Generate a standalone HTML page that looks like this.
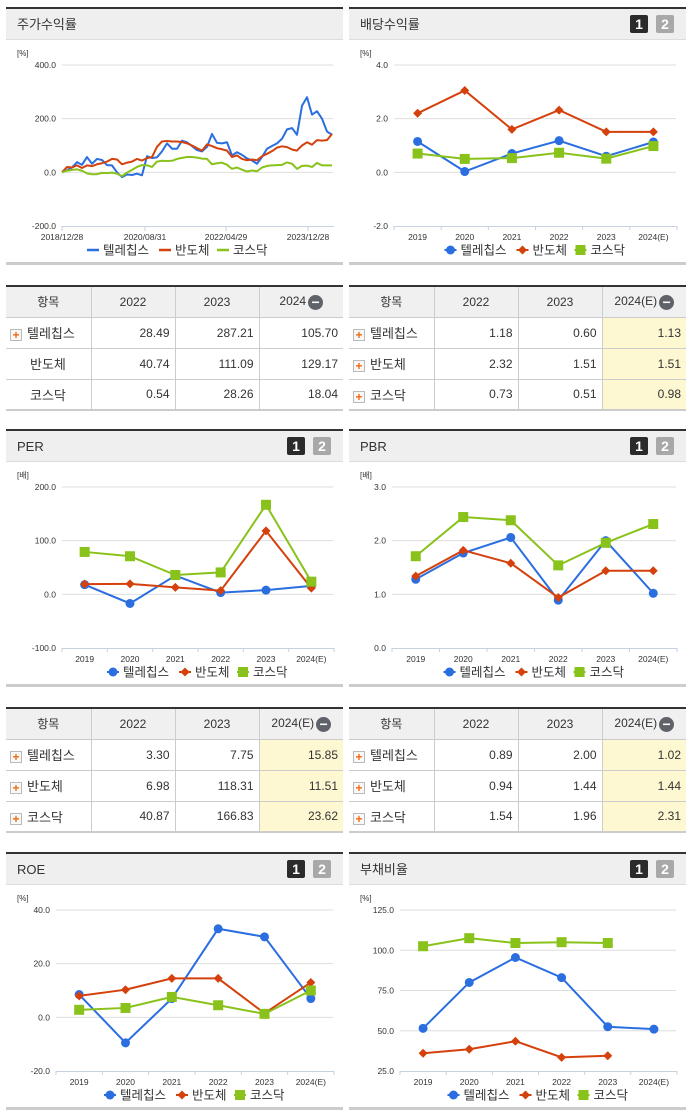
<!DOCTYPE html>
<html lang="ko"><head><meta charset="utf-8">
<style>
*{margin:0;padding:0;box-sizing:border-box}
body{width:691px;height:1115px;background:#fff;position:relative;overflow:hidden;font-family:"Liberation Sans","Noto Sans CJK KR",sans-serif;color:#333}
.panel{position:absolute;width:337px;height:258px;border-top:2px solid #333;border-bottom:3px solid #ccc}
.hdr{position:absolute;left:0;top:0;width:100%;height:31px;background:#efefef;border-bottom:1px solid #ddd;font-size:13px;line-height:31px;padding-left:11px}
.b1,.b2{position:absolute;top:6px;width:18px;height:18px;color:#fff;font-weight:bold;font-size:14px;line-height:18px;text-align:center;border-radius:2px}
.b1{background:#2b2b2b;right:38px}.b2{background:#a8a8a8;right:12px}
.panel svg{position:absolute;left:0;top:31px}
table{position:absolute;width:337px;border-collapse:collapse;table-layout:fixed;border-top:2px solid #333;border-bottom:2px solid #ccc;font-size:12px}
th{background:#f0f0f0;font-weight:normal;height:31px;border-left:1px solid #ccc;border-bottom:1px solid #ccc}
td{height:31px;border-left:1px solid #ccc;border-bottom:1px solid #ccc;text-align:right;padding-right:5px;color:#333}
th:first-child,td:first-child{border-left:none}
td.lbl{text-align:left;padding-left:4px;font-size:13px}
td.lbl.np{padding-left:24px}
td.y{background:#fdf8d2}
.pl{display:inline-block;width:12px;height:12px;border:1px solid #bbb;background:#f8f8f8;color:#f26a10;font-weight:bold;font-size:12px;line-height:10px;text-align:center;margin-right:5px;vertical-align:-1px}
.mn{display:inline-block;width:15px;height:15px;border-radius:50%;background:#5f6268;color:#fff;font-size:14px;line-height:14px;text-align:center;vertical-align:-2px;margin-left:2px;font-weight:bold}
</style></head><body>

<div class="panel" style="left:6px;top:7px"><div class="hdr">주가수익률</div><svg id="c0" width="337" height="224"></svg></div>
<div class="panel" style="left:349px;top:7px"><div class="hdr">배당수익률</div><div class="b1">1</div><div class="b2">2</div><svg id="c1" width="337" height="224"></svg></div>

<table style="left:6px;top:285px">
<colgroup><col style="width:85px"><col style="width:84px"><col style="width:84px"><col style="width:84px"></colgroup>
<tr><th>항목</th><th>2022</th><th>2023</th><th>2024<span class="mn">−</span></th></tr>
<tr><td class="lbl"><span class="pl">+</span>텔레칩스</td><td>28.49</td><td>287.21</td><td>105.70</td></tr>
<tr><td class="lbl np">반도체</td><td>40.74</td><td>111.09</td><td>129.17</td></tr>
<tr><td class="lbl np">코스닥</td><td>0.54</td><td>28.26</td><td>18.04</td></tr></table>
<table style="left:349px;top:285px">
<colgroup><col style="width:85px"><col style="width:84px"><col style="width:84px"><col style="width:84px"></colgroup>
<tr><th>항목</th><th>2022</th><th>2023</th><th>2024(E)<span class="mn">−</span></th></tr>
<tr><td class="lbl"><span class="pl">+</span>텔레칩스</td><td>1.18</td><td>0.60</td><td class="y">1.13</td></tr>
<tr><td class="lbl"><span class="pl">+</span>반도체</td><td>2.32</td><td>1.51</td><td class="y">1.51</td></tr>
<tr><td class="lbl"><span class="pl">+</span>코스닥</td><td>0.73</td><td>0.51</td><td class="y">0.98</td></tr></table>

<div class="panel" style="left:6px;top:429px"><div class="hdr">PER</div><div class="b1">1</div><div class="b2">2</div><svg id="c2" width="337" height="224"></svg></div>
<div class="panel" style="left:349px;top:429px"><div class="hdr">PBR</div><div class="b1">1</div><div class="b2">2</div><svg id="c3" width="337" height="224"></svg></div>

<table style="left:6px;top:707px">
<colgroup><col style="width:85px"><col style="width:84px"><col style="width:84px"><col style="width:84px"></colgroup>
<tr><th>항목</th><th>2022</th><th>2023</th><th>2024(E)<span class="mn">−</span></th></tr>
<tr><td class="lbl"><span class="pl">+</span>텔레칩스</td><td>3.30</td><td>7.75</td><td class="y">15.85</td></tr>
<tr><td class="lbl"><span class="pl">+</span>반도체</td><td>6.98</td><td>118.31</td><td class="y">11.51</td></tr>
<tr><td class="lbl"><span class="pl">+</span>코스닥</td><td>40.87</td><td>166.83</td><td class="y">23.62</td></tr></table>
<table style="left:349px;top:707px">
<colgroup><col style="width:85px"><col style="width:84px"><col style="width:84px"><col style="width:84px"></colgroup>
<tr><th>항목</th><th>2022</th><th>2023</th><th>2024(E)<span class="mn">−</span></th></tr>
<tr><td class="lbl"><span class="pl">+</span>텔레칩스</td><td>0.89</td><td>2.00</td><td class="y">1.02</td></tr>
<tr><td class="lbl"><span class="pl">+</span>반도체</td><td>0.94</td><td>1.44</td><td class="y">1.44</td></tr>
<tr><td class="lbl"><span class="pl">+</span>코스닥</td><td>1.54</td><td>1.96</td><td class="y">2.31</td></tr></table>

<div class="panel" style="left:6px;top:852px"><div class="hdr">ROE</div><div class="b1">1</div><div class="b2">2</div><svg id="c4" width="337" height="224"></svg></div>
<div class="panel" style="left:349px;top:852px"><div class="hdr">부채비율</div><div class="b1">1</div><div class="b2">2</div><svg id="c5" width="337" height="224"></svg></div>

<script>
const NS="http://www.w3.org/2000/svg";
const COLORS=["#2a6ee0","#d4410c","#88c21a"];
const seriesNames=["텔레칩스","반도체","코스닥"];
const years=["2019","2020","2021","2022","2023","2024(E)"];

const stockTickLabels=["2018/12/28","2020/08/31","2022/04/29","2023/12/28"];
const stockTickIdx=[0,16.6,32.8,49.2];
const stockBlue=[0,8,18,38,28,57,32,50,46,27,26,0,-18,-8,-10,-5,-11,60,53,56,78,108,88,88,118,112,98,83,78,95,143,110,108,112,63,75,65,52,44,32,57,88,98,108,125,160,165,140,248,280,215,228,200,152,140];
const stockRed=[0,20,18,26,16,26,23,30,34,40,50,48,30,36,40,50,44,53,57,95,115,117,115,115,113,108,100,90,81,104,98,90,86,81,57,63,50,45,48,45,60,69,79,92,97,94,85,81,100,112,103,120,118,120,143];
const stockGreen=[0,6,9,11,6,-4,-7,-7,-2,-3,-1,-5,-14,-1,9,20,27,26,20,40,43,42,43,50,54,57,57,55,51,50,30,34,36,28,13,18,10,3,7,4,18,24,26,27,28,37,32,13,24,25,20,35,26,26,26];

const divBlue=[1.15,0.03,0.7,1.18,0.60,1.13];
const divRed=[2.2,3.05,1.6,2.32,1.51,1.51];
const divGreen=[0.7,0.5,0.53,0.73,0.51,0.98];
const perBlue=[18,-17,35,3.3,7.75,15.85];
const perRed=[19,19.5,13,6.98,118.31,11.51];
const perGreen=[79,71,36,40.87,166.83,23.62];
const pbrBlue=[1.28,1.77,2.06,0.89,2.00,1.02];
const pbrRed=[1.34,1.82,1.58,0.94,1.44,1.44];
const pbrGreen=[1.71,2.44,2.38,1.54,1.96,2.31];
const roeBlue=[8.5,-9.5,7,33,30,7];
const roeRed=[8,10.3,14.5,14.5,1.5,13];
const roeGreen=[2.8,3.5,7.6,4.5,1.3,10];
const debtBlue=[51.5,80,95.5,83,52.5,51];
const debtRed=[36,38.5,43.5,33.5,34.5,null];
const debtGreen=[102.5,107.5,104.5,105,104.5,null];

function el(p,tag,a){const e=document.createElementNS(NS,tag);for(const k in a)e.setAttribute(k,a[k]);p.appendChild(e);return e;}
function txt(p,x,y,s,size,anchor){const t=el(p,"text",{x:x,y:y,"font-size":size,"text-anchor":anchor||"start",fill:"#333","font-family":"Liberation Sans, Noto Sans CJK KR, sans-serif"});t.textContent=s;return t;}

const YT=25,YB=186;
function frame(svg,ax,yMin,yMax,step,unit){
  const ys=v=>YB-(v-yMin)/(yMax-yMin)*(YB-YT);
  const u=txt(svg,11,16,unit,8);
  
  
  for(let v=yMin;v<=yMax+1e-9;v+=step){
    const y=ys(v);
    if(v>yMin){const g=el(svg,"line",{x1:ax,x2:327,y1:y,y2:y,stroke:"#dedede","stroke-width":1});
      
      }
    const t=txt(svg,ax-6,y+3,v.toFixed(1),8.5,"end");
    
    
  }
  const a=el(svg,"line",{x1:ax,x2:328,y1:YB+0.5,y2:YB+0.5,stroke:"#c5d2e0","stroke-width":1});
  
  
  return ys;
}
function marker(g,i,x,y){
  if(i===0)return el(g,"circle",{cx:x,cy:y,r:4.5,fill:COLORS[0]});
  if(i===1)return el(g,"path",{d:`M${x} ${y-4.5}L${x+4.5} ${y}L${x} ${y+4.5}L${x-4.5} ${y}Z`,fill:COLORS[1]});
  return el(g,"rect",{x:x-5,y:y-5,width:10,height:10,fill:COLORS[2]});
}
function legend(svg,cx,lineOnly){
  const widths=[72,58,52];let total=widths.reduce((a,b)=>a+b,0);let x=cx-total/2;
  for(let i=0;i<3;i++){
    const g=el(svg,"g",{});
    
    
    if(lineOnly){el(g,"line",{x1:x,x2:x+12,y1:210,y2:210,stroke:COLORS[i],"stroke-width":2.5});}
    else{el(g,"line",{x1:x,x2:x+12,y1:210,y2:210,stroke:COLORS[i],"stroke-width":2});marker(g,i,x+6,210);}
    txt(g,x+16,214.5,seriesNames[i],12.5);
    x+=widths[i];
  }
}
function catChart(id,ax,yMin,yMax,step,unit,s0,s1,s2){
  const svg=document.getElementById(id);
  const ys=frame(svg,ax,yMin,yMax,step,unit);
  const w=(328-ax)/years.length;
  const xs=i=>ax+w*(i+0.5);
  for(let i=0;i<=years.length;i++){el(svg,"line",{x1:ax+w*i,x2:ax+w*i,y1:YB,y2:YB+4,stroke:"#c5d2e0"});}
  years.forEach((c,i)=>{const t=txt(svg,xs(i),YB+14,c,8.5,"middle");
    
    });
  [s0,s1,s2].forEach((s,si)=>{
    const g=el(svg,"g",{});
    
    
    const pts=[];s.forEach((v,i)=>{if(v!==null)pts.push([xs(i),ys(v)]);});
    el(g,"polyline",{points:pts.map(p=>p.join(",")).join(" "),fill:"none",stroke:COLORS[si],"stroke-width":2});
    pts.forEach(p=>{const m=marker(g,si,p[0],p[1]);
      
      });
  });
  legend(svg,(ax+328)/2,false);
}
(function(){
  const svg=document.getElementById("c0");const ax=56;
  const ys=frame(svg,ax,-200,400,200,"[%]");
  const n=stockBlue.length;const xs=i=>ax+(i/(n-1))*(326-ax);
  stockTickIdx.forEach((ti,k)=>{const x=xs(ti);el(svg,"line",{x1:x,x2:x,y1:YB,y2:YB+5,stroke:"#c5d2e0"});
    const t=txt(svg,x,YB+14,stockTickLabels[k],8.5,"middle");
    
    });
  [stockBlue,stockRed,stockGreen].forEach((s,si)=>{
    const p=el(svg,"polyline",{points:s.map((v,i)=>xs(i)+","+ys(v)).join(" "),fill:"none",stroke:COLORS[si],"stroke-width":2,"stroke-linejoin":"round"});
    
    
  });
  legend(svg,172,true);
})();
catChart("c1",45,-2,4,2,"[%]",divBlue,divRed,divGreen);
catChart("c2",56,-100,200,100,"[배]",perBlue,perRed,perGreen);
catChart("c3",43,0,3,1,"[배]",pbrBlue,pbrRed,pbrGreen);
catChart("c4",50,-20,40,20,"[%]",roeBlue,roeRed,roeGreen);
catChart("c5",51,25,125,25,"[%]",debtBlue,debtRed,debtGreen);
</script>
</body></html>
